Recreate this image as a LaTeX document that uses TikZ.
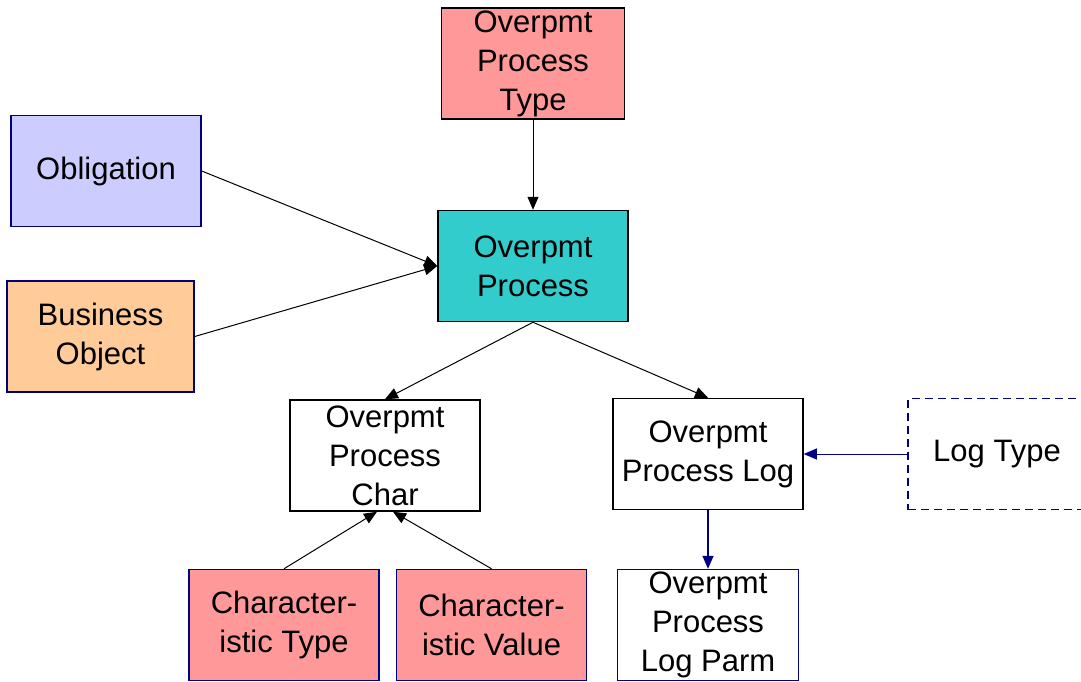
\documentclass[tikz,border=0pt]{standalone}
\usepackage{fontspec}
\setmainfont{Liberation Sans}
\usetikzlibrary{arrows.meta}
\definecolor{rosy}{HTML}{FF9999}
\definecolor{lilac}{HTML}{CCCCFF}
\definecolor{teal}{HTML}{33CCCC}
\definecolor{peach}{HTML}{FFCC99}
\definecolor{navy}{HTML}{000080}
\begin{document}
\begin{tikzpicture}[x=.5pt,y=-.5pt,every node/.style={font=\fontsize{15.5}{19.5}\selectfont,align=center,draw,line width=.75pt,minimum width=95pt,minimum height=55.5pt,inner sep=1pt},
link/.style={-{Triangle[length=6.5pt,width=5.5pt]},line width=.5pt}]
\useasboundingbox (0,0) rectangle (1081,681);
% main entity and the ones it points to
\node[fill=rosy,minimum width=91.5pt] (typ) at (533,63.5) {Overpmt\\Process\\Type};
\node[fill=lilac,draw=navy] (obl) at (106,171) {Obligation};
\node[fill=teal] (proc) at (533,266) {Overpmt\\Process};
\node[fill=peach,draw=navy,minimum width=93.5pt] (bo) at (100.5,336.5) {Business\\Object};
% children
\node (chr) at (385,455.5) {Overpmt\\Process\\Char};
\node (log) at (708,454) {Overpmt\\Process Log};
\node[draw=navy,dashed,dash pattern=on 4pt off 2.5pt,minimum width=89pt] (ltype) at (997,454) {Log Type};
\node[fill=rosy,draw=navy] (ctype) at (284,625) {Character-\\istic Type};
\node[fill=rosy,draw=navy] (cval) at (491.5,625) {Character-\\istic Value};
\node[draw=navy,minimum width=90.5pt] (lparm) at (708,625) {Overpmt\\Process\\Log Parm};
\draw[link] (typ)--(proc); \draw[link] (obl.east)--(proc.west); \draw[link] (bo.east)--(proc.west);
\draw[link] (proc.south)--(chr.north); \draw[link] (proc.south)--(log.north);
\draw[link] (ctype.north)--([xshift=-4pt]chr.south); \draw[link] (cval.north)--([xshift=4pt]chr.south);
\draw[link,navy] (ltype.west)--(log.east); \draw[link,navy,line width=.75pt] (log)--(lparm);
\end{tikzpicture}
\end{document}
